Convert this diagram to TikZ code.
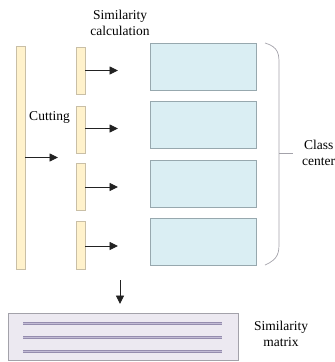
\documentclass[tikz,border=0pt]{standalone}
\usepackage{fontspec}
\setmainfont{Liberation Serif}
\usetikzlibrary{arrows.meta,positioning}
\definecolor{barfill}{HTML}{FFF2CC}
\definecolor{barline}{HTML}{C9BFA6}
\definecolor{cfill}{HTML}{DAEEF3}
\definecolor{cline}{HTML}{97A8AE}
\definecolor{mfill}{HTML}{ECE9F1}
\definecolor{mline}{HTML}{A3A2AA}
\definecolor{rowdark}{HTML}{958DAE}
\definecolor{rowlight}{HTML}{C3BCD6}
\definecolor{arrowc}{HTML}{222222}
\tikzset{
  box/.style={draw, line width=0.8pt, inner sep=0pt, outer sep=0pt},
  bar/.style={box, fill=barfill, draw=barline, minimum width=9pt},
  centerbox/.style={box, fill=cfill, draw=cline, minimum width=106pt, minimum height=47pt},
  flow/.style={draw=arrowc, line width=0.9pt, -{Triangle[length=8.5pt,width=8pt]}},
  lbl/.style={font=\fontsize{13.5}{16.5}\selectfont, align=center, inner sep=0pt},
  row/.style={line width=3pt, draw=rowdark},
  rowin/.style={line width=1pt, draw=rowlight}
}
\begin{document}
\begin{tikzpicture}[x=1pt,y=-1pt]
\useasboundingbox (0,0) rectangle (335,362);
\clip (0,0) rectangle (335,362);

% full feature bar
\node[bar, minimum height=223pt] (full) at (20.5,157.5) {};

% cut segments
\node[bar, minimum height=47pt] (s1) at (80.5,70.5) {};
\node[bar, minimum height=47pt] (s2) at (80.5,129.5) {};
\node[bar, minimum height=47pt] (s3) at (80.5,186.5) {};
\node[bar, minimum height=48pt] (s4) at (80.5,245) {};

% class centers
\node[centerbox] (c1) at (203,66.5) {};
\node[centerbox] (c2) at (203,125) {};
\node[centerbox] (c3) at (203,183.5) {};
\node[centerbox] (c4) at (203,241.5) {};

% labels
\node[lbl] (cut) at (49.5,117) {Cutting};
\node[lbl] (simcalc) at (120,23) {Similarity\\calculation};
\node[lbl, anchor=west] (cls) at (302,153) {Class\\center};
\node[lbl] (simmat) at (281,334) {Similarity\\matrix};

% arrows
\coordinate (a0) at (58,157.5);
\draw[flow] (full.east |- a0) -- (a0);
\coordinate (a1) at (118,70.5);
\coordinate (a2) at (118,128.5);
\coordinate (a3) at (118,187);
\coordinate (a4) at (118,246);
\draw[flow] (s1.east |- a1) -- (a1);
\draw[flow] (s2.east |- a2) -- (a2);
\draw[flow] (s3.east |- a3) -- (a3);
\draw[flow] (s4.east |- a4) -- (a4);

% brace grouping the class centers
\coordinate (btop) at (265,43);
\coordinate (bbot) at (265,265);
\coordinate (btip) at (293,153);
\draw[draw=mline, line width=0.7pt] (btop) .. controls (279,47) and (279,55) .. (279,64)
  -- (279,242) .. controls (279,252) and (279,259) .. (bbot);
\draw[draw=mline, line width=0.7pt] (279,153) -- (btip);

% down arrow to the matrix
\coordinate (d0) at (120,280);
\coordinate (d1) at (120,304);
\draw[flow] (d0) -- (d1);

% similarity matrix
\node[box, fill=mfill, draw=mline, minimum width=230pt, minimum height=47pt] (mat) at (123,336.5) {};
\foreach \yy in {323.5,337.5,351} {
  \draw[row] (23,\yy) -- (222,\yy);
  \draw[rowin] (23,\yy) -- (222,\yy);
}
\end{tikzpicture}
\end{document}
